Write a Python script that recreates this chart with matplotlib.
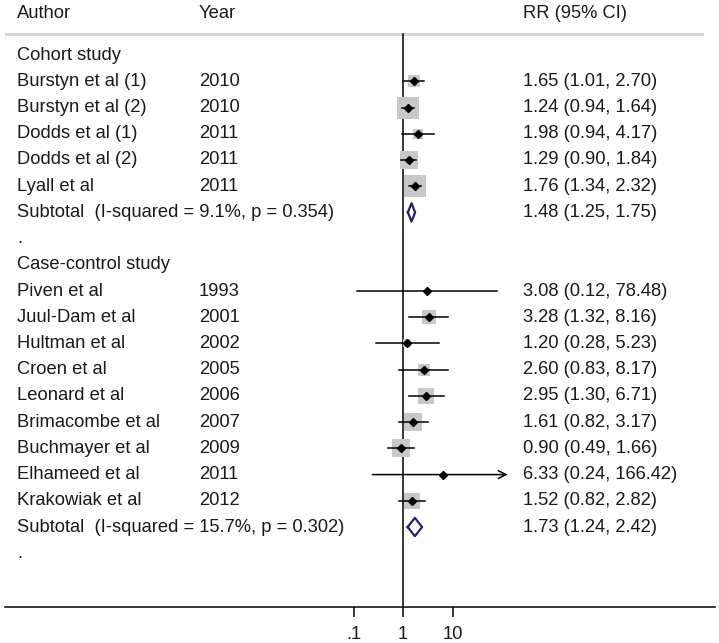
import matplotlib
matplotlib.use("Agg")
import matplotlib.pyplot as plt
import numpy as np

plt.rcParams['font.family'] = ['Liberation Sans', 'DejaVu Sans']

# study level data (RR with 95% CI); weights
cohort_authors = ['Burstyn et al (1)', 'Burstyn et al (2)', 'Dodds et al (1)',
                  'Dodds et al (2)', 'Lyall et al']
cohort_years = ['2010', '2010', '2011', '2011', '2011']
cohort_rr = [1.65, 1.24, 1.98, 1.29, 1.76]
cohort_lo = [1.01, 0.94, 0.94, 0.90, 1.34]
cohort_hi = [2.70, 1.64, 4.17, 1.84, 2.32]
cohort_w = [10.8, 31.0, 6.4, 20.8, 31.0]
cohort_sub = (1.48, 1.25, 1.75)
cohort_het = 'Subtotal  (I-squared = 9.1%, p = 0.354)'

cc_authors = ['Piven et al', 'Juul-Dam et al', 'Hultman et al', 'Croen et al',
              'Leonard et al', 'Brimacombe et al', 'Buchmayer et al',
              'Elhameed et al', 'Krakowiak et al']
cc_years = ['1993', '2001', '2002', '2005', '2006', '2007', '2009', '2011', '2012']
cc_rr = [3.08, 3.28, 1.20, 2.60, 2.95, 1.61, 0.90, 6.33, 1.52]
cc_lo = [0.12, 1.32, 0.28, 0.83, 1.30, 0.82, 0.49, 0.24, 0.82]
cc_hi = [78.48, 8.16, 5.23, 8.17, 6.71, 3.17, 1.66, 166.42, 2.82]
cc_w = [0.3, 11.4, 4.3, 9.7, 15.2, 19.5, 21.9, 0.3, 17.3]
cc_sub = (1.73, 1.24, 2.42)
cc_het = 'Subtotal  (I-squared = 15.7%, p = 0.302)'

xticks = [0.1, 1, 10]
xticklabels = ['.1', '1', '10']
ci_clip = 130  # CIs beyond this get an arrow

fig = plt.figure(figsize=(7.19, 6.43), dpi=100)
ax = fig.add_axes([5 / 719, 36 / 643, 710 / 719, 607 / 643])
ax.set_xscale('log')
ax.set_xlim(10 ** -8.04, 10 ** 6.30)
ax.set_ylim(21.05, -2.1)

txt = ax.get_yaxis_transform()
col_author, col_year, col_rr = 0.017, 0.273, 0.7296
fs = 13.2
tcol = '#1a1a1a'
diam_col = '#2b1d6b'


def fmt(r, l, h):
    return '%.2f (%.2f, %.2f)' % (r, l, h)


def draw_group(start, title, authors, years, rr, lo, hi, w, sub, het):
    ax.text(col_author, start, title, transform=txt, fontsize=fs, color=tcol, va='center')
    for i in range(len(authors)):
        y = start + 1 + i
        ax.text(col_author, y, authors[i], transform=txt, fontsize=fs, color=tcol, va='center')
        ax.text(col_year, y, years[i], transform=txt, fontsize=fs, color=tcol, va='center')
        ax.text(col_rr, y, fmt(rr[i], lo[i], hi[i]), transform=txt, fontsize=fs,
                color=tcol, va='center')
        side = 3.9 * np.sqrt(w[i]) * 0.72
        ax.scatter([rr[i]], [y], marker='s', s=side ** 2, color='#c8c8c8', zorder=2,
                   linewidths=0)
        if hi[i] > ci_clip:
            ax.annotate('', xy=(ci_clip, y), xytext=(lo[i], y),
                        arrowprops=dict(arrowstyle='->', lw=1.1, color='black',
                                        mutation_scale=14, shrinkA=0, shrinkB=0),
                        zorder=3)
        else:
            ax.plot([lo[i], hi[i]], [y, y], color='black', lw=1.1, zorder=3)
        ax.plot([rr[i]], [y], marker='D', markersize=3.8, color='black', zorder=4)
    ys = start + 1 + len(authors)
    ax.text(col_author, ys, het, transform=txt, fontsize=fs, color=tcol, va='center')
    ax.text(col_rr, ys, fmt(*sub), transform=txt, fontsize=fs, color=tcol, va='center')
    h = 0.35
    ax.plot([sub[1], sub[0], sub[2], sub[0], sub[1]], [ys, ys - h, ys, ys + h, ys],
            color=diam_col, lw=1.6, zorder=4)
    ax.text(col_author, ys + 1, '.', transform=txt, fontsize=fs, color=tcol, va='center')
    return ys + 2


# header
ax.text(col_author, -1.6, 'Author', transform=txt, fontsize=fs, color=tcol, va='center')
ax.text(col_year, -1.6, 'Year', transform=txt, fontsize=fs, color=tcol, va='center')
ax.text(col_rr, -1.6, 'RR (95% CI)', transform=txt, fontsize=fs, color=tcol, va='center')
ax.plot([0, 0.982], [-0.79, -0.79], transform=txt, color='#d4d4d4', lw=2, zorder=1)

nxt = draw_group(0, 'Cohort study', cohort_authors, cohort_years, cohort_rr, cohort_lo,
                 cohort_hi, cohort_w, cohort_sub, cohort_het)
draw_group(nxt, 'Case-control study', cc_authors, cc_years, cc_rr, cc_lo, cc_hi, cc_w,
           cc_sub, cc_het)

# null line
ax.plot([1, 1], [-0.79, 21.05], color='black', lw=1.1, zorder=1)

for s in ['left', 'right', 'top']:
    ax.spines[s].set_visible(False)
ax.spines['bottom'].set_linewidth(1.1)
ax.set_yticks([])
ax.set_xticks(xticks)
ax.set_xticklabels(xticklabels, fontsize=fs, color=tcol)
ax.minorticks_off()
ax.tick_params(axis='x', direction='out', length=7.5, width=1.1, pad=6)
ax.patch.set_visible(False)

fig.savefig('out.png', dpi=100)
